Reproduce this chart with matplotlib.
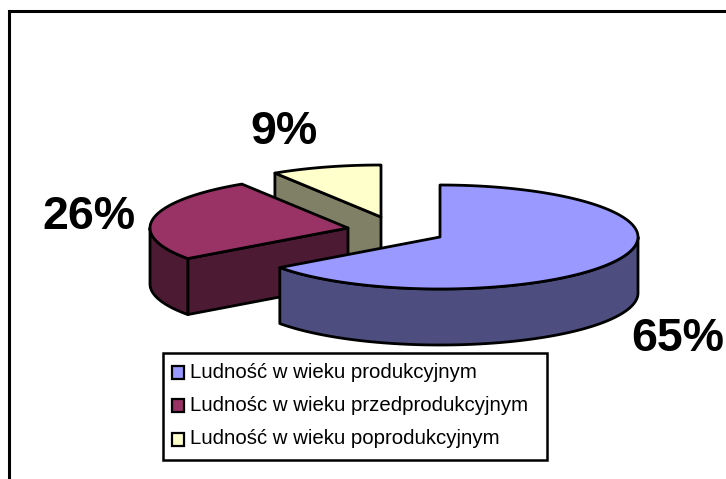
import numpy as np
import matplotlib
matplotlib.use("Agg")
from matplotlib import pyplot as plt
from matplotlib.patches import Polygon, Rectangle

plt.rcParams['font.family'] = ['Liberation Sans', 'DejaVu Sans']

categories = ["Ludność w wieku produkcyjnym",
              "Ludnośc w wieku przedprodukcyjnym",
              "Ludność w wieku poprodukcyjnym"]
shares = [65, 26, 9]
labels = ["65%", "26%", "9%"]
tops = ["#9999FF", "#993366", "#FFFFCC"]
sides = ["#4D4D80", "#4D1A33", "#808066"]

# centres of the exploded slices, in pixels
centres = [(440, 237), (348, 228), (381, 217)]
label_pos = [(678, 339), (89, 217), (284, 132)]

RX, RY, DEPTH = 198, 52, 56


def rim(cx, cy, a0, a1):
    # angles in degrees, clockwise from 12 o'clock
    t = np.radians(np.linspace(a0, a1, 200))
    return np.column_stack([cx + RX * np.sin(t), cy - RY * np.cos(t)])


def draw_slice(ax, c, a0, a1, top, side):
    cx, cy = c
    # cut face at the start of the slice, seen only on the left half
    if a0 > 180:
        p = rim(cx, cy, a0, a0)[0]
        face = [(cx, cy), p, p + [0, DEPTH], (cx, cy + DEPTH)]
        ax.add_patch(Polygon(face, fc=side, ec="black", lw=2, joinstyle="round"))
    # outer wall, only the part that faces the viewer
    lo, hi = max(a0, 90), min(a1, 270)
    if lo < hi:
        r = rim(cx, cy, lo, hi)
        wall = np.vstack([r, r[::-1] + [0, DEPTH]])
        ax.add_patch(Polygon(wall, fc=side, ec="black", lw=2, joinstyle="round"))
    pts = np.vstack([[(cx, cy)], rim(cx, cy, a0, a1)])
    ax.add_patch(Polygon(pts, fc=top, ec="black", lw=2, joinstyle="round"))


fig = plt.figure(figsize=(7.26, 4.79), dpi=100)
ax = fig.add_axes([0, 0, 1, 1])
ax.set_xlim(0, 726)
ax.set_ylim(479, 0)
ax.axis("off")

# frame is only visible on the top and left
ax.plot([9, 9, 726], [479, 11, 11], color="black", lw=2.2, solid_joinstyle="miter")

edges = np.cumsum([0] + shares) * 3.6
order = [2, 1, 0]
for i in order:
    draw_slice(ax, centres[i], edges[i], edges[i + 1], tops[i], sides[i])

for i in range(3):
    ax.text(label_pos[i][0], label_pos[i][1], labels[i], fontsize=33.5, fontweight="bold",
            ha="center", va="center", color="black")

# legend
ax.add_patch(Rectangle((163, 353), 384, 107, fc="white", ec="black", lw=1.8))
for i, name in enumerate(categories):
    y = 372 + i * 33.5
    ax.add_patch(Rectangle((172, y - 6.5), 12, 13, fc=tops[i], ec="black", lw=1.6))
    ax.text(190, y, name, fontsize=14.7, ha="left", va="center", color="black")

fig.savefig("out.png", dpi=100)
